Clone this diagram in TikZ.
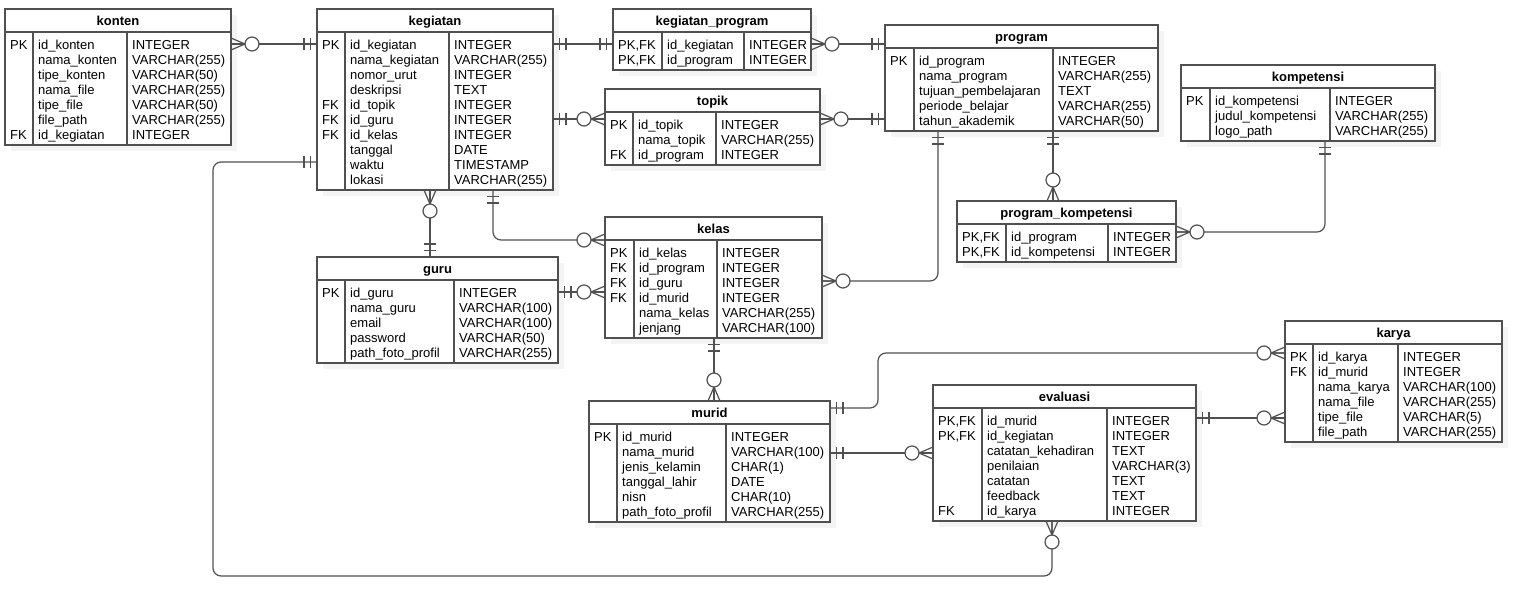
\documentclass[tikz,border=0pt]{standalone}
\usepackage{fontspec}
\setmainfont{Liberation Sans}
\usetikzlibrary{fit}

\definecolor{erline}{RGB}{80,80,80}

\tikzset{
  rel/.style={erline, line width=1.2pt},
  tbl/.style={draw=erline, line width=1.2pt, fill=white, inner sep=0pt, outer sep=0pt},
  tblline/.style={erline, line width=1.2pt},
  tblshadow/.style={gray!9},
  tbltitle/.style={anchor=base, inner sep=0pt, font=\fontsize{13}{15}\selectfont\bfseries},
  tblcol/.style={anchor=north west, inner sep=0pt, align=left, font=\fontsize{13}{15}\selectfont},
  one/.pic={\draw[rel] (6.5,-6) -- (6.5,6) (13,-6) -- (13,6);},
  zmany/.pic={\draw[rel] (0,-6) -- (14,0) -- (0,6) (0,0) -- (14,0);
    \draw[rel, fill=white] (21,0) circle (7pt);}
}

% table: name, top left, bottom right, column lines, title, keys, fields, types
\newcommand{\erbox}[9]{%
  \fill[tblshadow, shift={(6,6)}] (#2) rectangle (#3);
  \node[tbl, fit={(#2) (#3)}] (#1) {};
  \coordinate (#1-h) at ([yshift=-23pt]#1.north west);
  \coordinate (#1-a) at (#4,0);
  \coordinate (#1-b) at (#5,0);
  \coordinate (#1-ha) at (#1-h -| #1-a);
  \coordinate (#1-hb) at (#1-h -| #1-b);
  \draw[tblline] (#1-h) -- (#1-h -| #1.east);
  \draw[tblline] (#1-ha) -- (#1.south -| #1-a);
  \draw[tblline] (#1-hb) -- (#1.south -| #1-b);
  \node[tbltitle] at ([yshift=-16pt]#1.north) {#6};
  \node[tblcol] at ([xshift=5pt,yshift=-6.5pt]#1-h) {\strut#7};
  \node[tblcol] at ([xshift=5pt,yshift=-6.5pt]#1-ha) {\strut#8};
  \node[tblcol] at ([xshift=5pt,yshift=-6.5pt]#1-hb) {\strut#9};
}

\begin{document}
\begin{tikzpicture}[x=1pt, y=-1pt]
  \useasboundingbox (0,0) rectangle (1519,595);

  \erbox{konten}{5,9}{231,145}{33}{127}{konten}
    {PK\\~\\~\\~\\~\\~\\FK}
    {id\_konten\\nama\_konten\\tipe\_konten\\nama\_file\\tipe\_file\\file\_path\\id\_kegiatan}
    {INTEGER\\VARCHAR(255)\\VARCHAR(50)\\VARCHAR(255)\\VARCHAR(50)\\VARCHAR(255)\\INTEGER}
  \erbox{kegiatan}{317,9}{553,190}{345}{449}{kegiatan}
    {PK\\~\\~\\~\\FK\\FK\\FK\\~\\~\\~}
    {id\_kegiatan\\nama\_kegiatan\\nomor\_urut\\deskripsi\\id\_topik\\id\_guru\\id\_kelas\\tanggal\\waktu\\lokasi}
    {INTEGER\\VARCHAR(255)\\INTEGER\\TEXT\\INTEGER\\INTEGER\\INTEGER\\DATE\\TIMESTAMP\\VARCHAR(255)}
  \erbox{kegiatanprogram}{613,9}{811,70}{662}{744}{kegiatan\_program}
    {PK,FK\\PK,FK}
    {id\_kegiatan\\id\_program}
    {INTEGER\\INTEGER}
  \erbox{topik}{605,89}{820,165}{633}{716}{topik}
    {PK\\~\\FK}
    {id\_topik\\nama\_topik\\id\_program}
    {INTEGER\\VARCHAR(255)\\INTEGER}
  \erbox{program}{885,25}{1158,131}{914}{1053}{program}
    {PK}
    {id\_program\\nama\_program\\tujuan\_pembelajaran\\periode\_belajar\\tahun\_akademik}
    {INTEGER\\VARCHAR(255)\\TEXT\\VARCHAR(255)\\VARCHAR(50)}
  \erbox{kompetensi}{1181,65}{1435,141}{1210}{1330}{kompetensi}
    {PK}
    {id\_kompetensi\\judul\_kompetensi\\logo\_path}
    {INTEGER\\VARCHAR(255)\\VARCHAR(255)}
  \erbox{programkompetensi}{957,201}{1176,262}{1006}{1108}{program\_kompetensi}
    {PK,FK\\PK,FK}
    {id\_program\\id\_kompetensi}
    {INTEGER\\INTEGER}
  \erbox{guru}{317,257}{558,363}{345}{454}{guru}
    {PK}
    {id\_guru\\nama\_guru\\email\\password\\path\_foto\_profil}
    {INTEGER\\VARCHAR(100)\\VARCHAR(100)\\VARCHAR(50)\\VARCHAR(255)}
  \erbox{kelas}{605,217}{822,338}{634}{717}{kelas}
    {PK\\FK\\FK\\FK}
    {id\_kelas\\id\_program\\id\_guru\\id\_murid\\nama\_kelas\\jenjang}
    {INTEGER\\INTEGER\\INTEGER\\INTEGER\\VARCHAR(255)\\VARCHAR(100)}
  \erbox{murid}{589,401}{830,522}{617}{726}{murid}
    {PK}
    {id\_murid\\nama\_murid\\jenis\_kelamin\\tanggal\_lahir\\nisn\\path\_foto\_profil}
    {INTEGER\\VARCHAR(100)\\CHAR(1)\\DATE\\CHAR(10)\\VARCHAR(255)}
  \erbox{evaluasi}{933,385}{1196,521}{982}{1107}{evaluasi}
    {PK,FK\\PK,FK\\~\\~\\~\\~\\FK}
    {id\_murid\\id\_kegiatan\\catatan\_kehadiran\\penilaian\\catatan\\feedback\\id\_karya}
    {INTEGER\\INTEGER\\TEXT\\VARCHAR(3)\\TEXT\\TEXT\\INTEGER}
  \erbox{karya}{1285,321}{1502,442}{1313}{1398}{karya}
    {PK\\FK}
    {id\_karya\\id\_murid\\nama\_karya\\nama\_file\\tipe\_file\\file\_path}
    {INTEGER\\INTEGER\\VARCHAR(100)\\VARCHAR(255)\\VARCHAR(5)\\VARCHAR(255)}

  % relations
  \draw[rel] (konten.east |- 0,44) -- (kegiatan.west |- 0,44);
  \path (konten.east |- 0,44) pic {zmany} (kegiatan.west |- 0,44) pic[rotate=180] {one};

  \draw[rel] (kegiatan.east |- 0,44) -- (kegiatanprogram.west |- 0,44);
  \path (kegiatan.east |- 0,44) pic {one} (kegiatanprogram.west |- 0,44) pic[rotate=180] {one};

  \draw[rel] (kegiatanprogram.east |- 0,44) -- (program.west |- 0,44);
  \path (kegiatanprogram.east |- 0,44) pic {zmany} (program.west |- 0,44) pic[rotate=180] {one};

  \draw[rel] (kegiatan.east |- 0,119) -- (topik.west |- 0,119);
  \path (kegiatan.east |- 0,119) pic {one} (topik.west |- 0,119) pic[rotate=180] {zmany};

  \draw[rel] (topik.east |- 0,119) -- (program.west |- 0,119);
  \path (topik.east |- 0,119) pic {zmany} (program.west |- 0,119) pic[rotate=180] {one};

  \draw[rel, rounded corners=8pt] (kegiatan.west |- 0,162) -| (213,576) -| (evaluasi.south -| 1052,0);
  \path (kegiatan.west |- 0,162) pic[rotate=180] {one} (evaluasi.south -| 1052,0) pic[rotate=-90] {zmany};

  \draw[rel] (kegiatan.south -| 430,0) -- (guru.north -| 430,0);
  \path (kegiatan.south -| 430,0) pic[rotate=-90] {zmany} (guru.north -| 430,0) pic[rotate=90] {one};

  \draw[rel, rounded corners=8pt] (kegiatan.south -| 493,0) |- (kelas.west |- 0,240);
  \path (kegiatan.south -| 493,0) pic[rotate=-90] {one} (kelas.west |- 0,240) pic[rotate=180] {zmany};

  \draw[rel] (guru.east |- 0,292) -- (kelas.west |- 0,292);
  \path (guru.east |- 0,292) pic {one} (kelas.west |- 0,292) pic[rotate=180] {zmany};

  \draw[rel, rounded corners=8pt] (kelas.east |- 0,281) -| (program.south -| 938,0);
  \path (kelas.east |- 0,281) pic {zmany} (program.south -| 938,0) pic[rotate=-90] {one};

  \draw[rel] (program.south -| 1053,0) -- (programkompetensi.north -| 1053,0);
  \path (program.south -| 1053,0) pic[rotate=-90] {one} (programkompetensi.north -| 1053,0) pic[rotate=90] {zmany};

  \draw[rel, rounded corners=8pt] (programkompetensi.east |- 0,232) -| (kompetensi.south -| 1325,0);
  \path (programkompetensi.east |- 0,232) pic {zmany} (kompetensi.south -| 1325,0) pic[rotate=-90] {one};

  \draw[rel] (kelas.south -| 714,0) -- (murid.north -| 714,0);
  \path (kelas.south -| 714,0) pic[rotate=-90] {one} (murid.north -| 714,0) pic[rotate=90] {zmany};

  \draw[rel, rounded corners=8pt] (murid.east |- 0,408) -| (878,353) -- (karya.west |- 0,353);
  \path (murid.east |- 0,408) pic {one} (karya.west |- 0,353) pic[rotate=180] {zmany};

  \draw[rel] (murid.east |- 0,453) -- (evaluasi.west |- 0,453);
  \path (murid.east |- 0,453) pic {one} (evaluasi.west |- 0,453) pic[rotate=180] {zmany};

  \draw[rel] (evaluasi.east |- 0,418) -- (karya.west |- 0,418);
  \path (evaluasi.east |- 0,418) pic {one} (karya.west |- 0,418) pic[rotate=180] {zmany};
\end{tikzpicture}
\end{document}
